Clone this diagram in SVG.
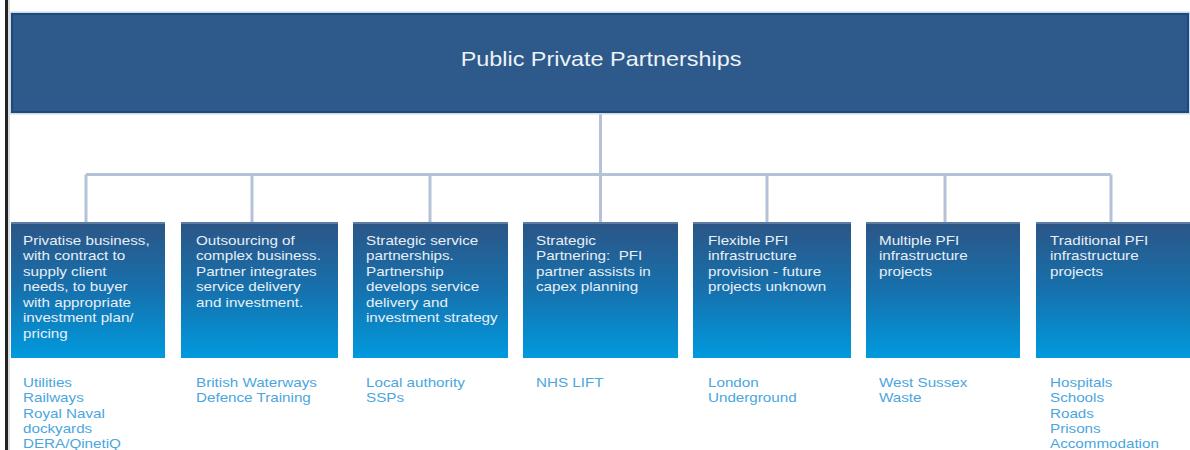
<svg xmlns="http://www.w3.org/2000/svg" width="1190" height="450" viewBox="0 0 1190 450">
  <defs>
    <linearGradient id="boxGrad" x1="0" y1="0" x2="0" y2="1">
      <stop offset="0" stop-color="#2c5586"/>
      <stop offset="0.5" stop-color="#1671ad"/>
      <stop offset="1" stop-color="#009ade"/>
    </linearGradient>
    <style>
      .bt { font-family: "Liberation Sans", Arial, sans-serif; font-size: 13px; fill: #e9eff6; }
      .lt { font-family: "Liberation Sans", Arial, sans-serif; font-size: 13px; fill: #4aa6de; }
      .title { font-family: "Liberation Sans", Arial, sans-serif; font-size: 20px; fill: #eef2f8; text-anchor: middle; }
      .box { fill: url(#boxGrad); }
      .boxtop { fill: #5d7ca3; }
      .conn { stroke: #b3c2d6; stroke-width: 3; fill: none; }
    </style>
  </defs>
  <rect x="0" y="0" width="1190" height="450" fill="#ffffff"/>
  <rect x="5" y="0" width="3" height="450" fill="#222222"/>
  <rect x="8" y="0" width="2" height="450" fill="#dddddd"/>

  <g id="connectors">
    <line class="conn" x1="600.5" y1="112" x2="600.5" y2="222"/>
    <line class="conn" x1="86" y1="174.5" x2="1111" y2="174.5"/>
    <line class="conn" x1="86" y1="174.5" x2="86" y2="222"/>
    <line class="conn" x1="252" y1="174.5" x2="252" y2="222"/>
    <line class="conn" x1="430" y1="174.5" x2="430" y2="222"/>
    <line class="conn" x1="767" y1="174.5" x2="767" y2="222"/>
    <line class="conn" x1="945" y1="174.5" x2="945" y2="222"/>
    <line class="conn" x1="1111" y1="174.5" x2="1111" y2="222"/>
  </g>

  <g id="root">
    <rect x="10.5" y="12.5" width="1179" height="101" fill="none" stroke="#d0dae5" stroke-width="2"/>
    <rect x="12" y="14" width="1176" height="98" fill="#2d5a8a" stroke="#1b4a7f" stroke-width="2"/>
    <text class="title" transform="translate(601,66) scale(1.17,1)">Public Private Partnerships</text>
  </g>

  <g id="box1">
    <rect class="box" x="11" y="222" width="154" height="136"/>
    <rect class="boxtop" x="11" y="222" width="154" height="2"/>
    <text class="bt" transform="translate(23,245) scale(1.17,1)">
      <tspan x="0" y="0">Privatise business,</tspan>
      <tspan x="0" y="15.5">with contract to</tspan>
      <tspan x="0" y="31">supply client</tspan>
      <tspan x="0" y="46.5">needs, to buyer</tspan>
      <tspan x="0" y="62">with appropriate</tspan>
      <tspan x="0" y="77.5">investment plan/</tspan>
      <tspan x="0" y="93">pricing</tspan>
    </text>
    <text class="lt" transform="translate(23,387) scale(1.17,1)">
      <tspan x="0" y="0">Utilities</tspan>
      <tspan x="0" y="15.3">Railways</tspan>
      <tspan x="0" y="30.6">Royal Naval</tspan>
      <tspan x="0" y="45.9">dockyards</tspan>
      <tspan x="0" y="61.2">DERA/QinetiQ</tspan>
    </text>
  </g>

  <g id="box2">
    <rect class="box" x="181" y="222" width="157" height="136"/>
    <rect class="boxtop" x="181" y="222" width="157" height="2"/>
    <text class="bt" transform="translate(196,245) scale(1.17,1)">
      <tspan x="0" y="0">Outsourcing of</tspan>
      <tspan x="0" y="15.5">complex business.</tspan>
      <tspan x="0" y="31">Partner integrates</tspan>
      <tspan x="0" y="46.5">service delivery</tspan>
      <tspan x="0" y="62">and investment.</tspan>
    </text>
    <text class="lt" transform="translate(196,387) scale(1.17,1)">
      <tspan x="0" y="0">British Waterways</tspan>
      <tspan x="0" y="15.3">Defence Training</tspan>
    </text>
  </g>

  <g id="box3">
    <rect class="box" x="353" y="222" width="155" height="136"/>
    <rect class="boxtop" x="353" y="222" width="155" height="2"/>
    <text class="bt" transform="translate(366,245) scale(1.17,1)">
      <tspan x="0" y="0">Strategic service</tspan>
      <tspan x="0" y="15.5">partnerships.</tspan>
      <tspan x="0" y="31">Partnership</tspan>
      <tspan x="0" y="46.5">develops service</tspan>
      <tspan x="0" y="62">delivery and</tspan>
      <tspan x="0" y="77.5">investment strategy</tspan>
    </text>
    <text class="lt" transform="translate(366,387) scale(1.17,1)">
      <tspan x="0" y="0">Local authority</tspan>
      <tspan x="0" y="15.3">SSPs</tspan>
    </text>
  </g>

  <g id="box4">
    <rect class="box" x="523" y="222" width="155" height="136"/>
    <rect class="boxtop" x="523" y="222" width="155" height="2"/>
    <text class="bt" transform="translate(536,245) scale(1.17,1)">
      <tspan x="0" y="0">Strategic</tspan>
      <tspan x="0" y="15.5" xml:space="preserve">Partnering:  PFI</tspan>
      <tspan x="0" y="31">partner assists in</tspan>
      <tspan x="0" y="46.5">capex planning</tspan>
    </text>
    <text class="lt" transform="translate(536,387) scale(1.17,1)">
      <tspan x="0" y="0">NHS LIFT</tspan>
    </text>
  </g>

  <g id="box5">
    <rect class="box" x="693" y="222" width="158" height="136"/>
    <rect class="boxtop" x="693" y="222" width="158" height="2"/>
    <text class="bt" transform="translate(708,245) scale(1.17,1)">
      <tspan x="0" y="0">Flexible PFI</tspan>
      <tspan x="0" y="15.5">infrastructure</tspan>
      <tspan x="0" y="31">provision - future</tspan>
      <tspan x="0" y="46.5">projects unknown</tspan>
    </text>
    <text class="lt" transform="translate(708,387) scale(1.17,1)">
      <tspan x="0" y="0">London</tspan>
      <tspan x="0" y="15.3">Underground</tspan>
    </text>
  </g>

  <g id="box6">
    <rect class="box" x="866" y="222" width="154" height="136"/>
    <rect class="boxtop" x="866" y="222" width="154" height="2"/>
    <text class="bt" transform="translate(879,245) scale(1.17,1)">
      <tspan x="0" y="0">Multiple PFI</tspan>
      <tspan x="0" y="15.5">infrastructure</tspan>
      <tspan x="0" y="31">projects</tspan>
    </text>
    <text class="lt" transform="translate(879,387) scale(1.17,1)">
      <tspan x="0" y="0">West Sussex</tspan>
      <tspan x="0" y="15.3">Waste</tspan>
    </text>
  </g>

  <g id="box7">
    <rect class="box" x="1036" y="222" width="154" height="136"/>
    <rect class="boxtop" x="1036" y="222" width="154" height="2"/>
    <text class="bt" transform="translate(1050,245) scale(1.17,1)">
      <tspan x="0" y="0">Traditional PFI</tspan>
      <tspan x="0" y="15.5">infrastructure</tspan>
      <tspan x="0" y="31">projects</tspan>
    </text>
    <text class="lt" transform="translate(1050,387) scale(1.17,1)">
      <tspan x="0" y="0">Hospitals</tspan>
      <tspan x="0" y="15.3">Schools</tspan>
      <tspan x="0" y="30.6">Roads</tspan>
      <tspan x="0" y="45.9">Prisons</tspan>
      <tspan x="0" y="61.2">Accommodation</tspan>
    </text>
  </g>
</svg>
